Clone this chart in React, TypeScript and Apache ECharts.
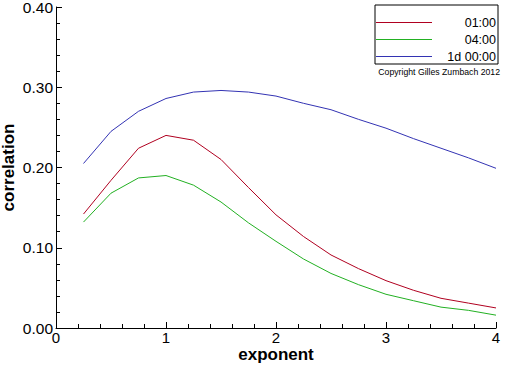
import React, { useEffect, useRef } from "react";
import * as echarts from "echarts";

const exponents = [0.25, 0.5, 0.75, 1.0, 1.25, 1.5, 1.75, 2.0, 2.25, 2.5, 2.75, 3.0, 3.25, 3.5, 3.75, 4.0];
const series01h = [0.142, 0.184, 0.224, 0.240, 0.234, 0.210, 0.175, 0.141, 0.114, 0.091, 0.074, 0.059, 0.047, 0.037, 0.031, 0.025];
const series04h = [0.132, 0.168, 0.187, 0.190, 0.178, 0.157, 0.131, 0.108, 0.086, 0.068, 0.054, 0.042, 0.034, 0.026, 0.022, 0.016];
const series1d = [0.205, 0.245, 0.270, 0.286, 0.294, 0.296, 0.294, 0.289, 0.280, 0.272, 0.260, 0.249, 0.236, 0.224, 0.212, 0.199];
const seriesNames = ["01:00", "04:00", "1d 00:00"];
const seriesColors = ["#b00020", "#22b022", "#3333b3"];

const FONT = "Liberation Sans, Arial, Helvetica, sans-serif";

export default function App() {
  const ref = useRef<HTMLDivElement>(null);
  useEffect(() => {
    if (!ref.current) return;
    const chart = echarts.init(ref.current, undefined, { renderer: "svg" });
    const allData = [series01h, series04h, series1d];

    chart.setOption({
      animation: false,
      backgroundColor: "#fff",
      textStyle: { fontFamily: FONT },
      grid: { left: 56, right: 16, top: 7, bottom: 38, containLabel: false, outerBoundsMode: "none" },
      legend: {
        show: true,
        orient: "vertical",
        left: 375,
        top: 5,
        padding: [11, 2, 1, 1],
        itemGap: 4,
        itemWidth: 56,
        itemHeight: 1,
        icon: "rect",
        borderColor: "#000",
        borderWidth: 1,
        backgroundColor: "#fff",
        data: seriesNames,
        formatter: (name: string) => `{a|${name}}`,
        textStyle: {
          color: "#000",
          fontFamily: FONT,
          fontSize: 12.5,
          lineHeight: 11,
          rich: {
            a: { width: 59, align: "right", fontSize: 12.5, lineHeight: 11, color: "#000", fontFamily: FONT },
          },
        },
      },
      xAxis: {
        type: "value",
        min: 0,
        max: 4,
        interval: 1,
        name: "exponent",
        nameLocation: "middle",
        nameGap: 18,
        nameMoveOverlap: false,
        nameTextStyle: { fontSize: 17, fontWeight: "bold", color: "#000", fontFamily: FONT },
        axisLine: { show: true, lineStyle: { color: "#000", width: 1 } },
        axisTick: { show: true, inside: true, length: 6, lineStyle: { color: "#000" } },
        minorTick: { show: true, splitNumber: 5, length: 4, lineStyle: { color: "#000" } },
        axisLabel: { color: "#000", fontSize: 15, margin: 2, fontFamily: FONT },
        splitLine: { show: false },
      },
      yAxis: {
        type: "value",
        min: 0,
        max: 0.4,
        interval: 0.1,
        name: "correlation",
        nameLocation: "middle",
        nameGap: 39,
        nameMoveOverlap: false,
        nameRotate: 90,
        nameTextStyle: { fontSize: 17, fontWeight: "bold", color: "#000", fontFamily: FONT },
        axisLine: { show: true, lineStyle: { color: "#000", width: 1 } },
        axisTick: { show: true, inside: true, length: 6, lineStyle: { color: "#000" } },
        minorTick: { show: true, splitNumber: 5, length: 4, lineStyle: { color: "#000" } },
        axisLabel: {
          color: "#000",
          fontSize: 15.5,
          margin: 3,
          fontFamily: FONT,
          formatter: (v: number) => v.toFixed(2),
        },
        splitLine: { show: false },
      },
      series: seriesNames.map((name, i) => ({
        name,
        type: "line",
        data: exponents.map((x, j) => [x, allData[i][j]]),
        showSymbol: false,
        symbol: "none",
        color: seriesColors[i],
        lineStyle: { color: seriesColors[i], width: 1 },
        itemStyle: { color: seriesColors[i] },
      })),
      graphic: [
        {
          type: "text",
          x: 500,
          y: 72,
          style: {
            text: "Copyright Gilles Zumbach 2012",
            fill: "#000",
            font: `8.7px ${FONT}`,
            textAlign: "right",
            textVerticalAlign: "middle",
          },
        },
      ],
    });
    return () => chart.dispose();
  }, []);
  return <div ref={ref} style={{ width: 512, height: 366, position: "absolute", left: 0, top: 0 }} />;
}
